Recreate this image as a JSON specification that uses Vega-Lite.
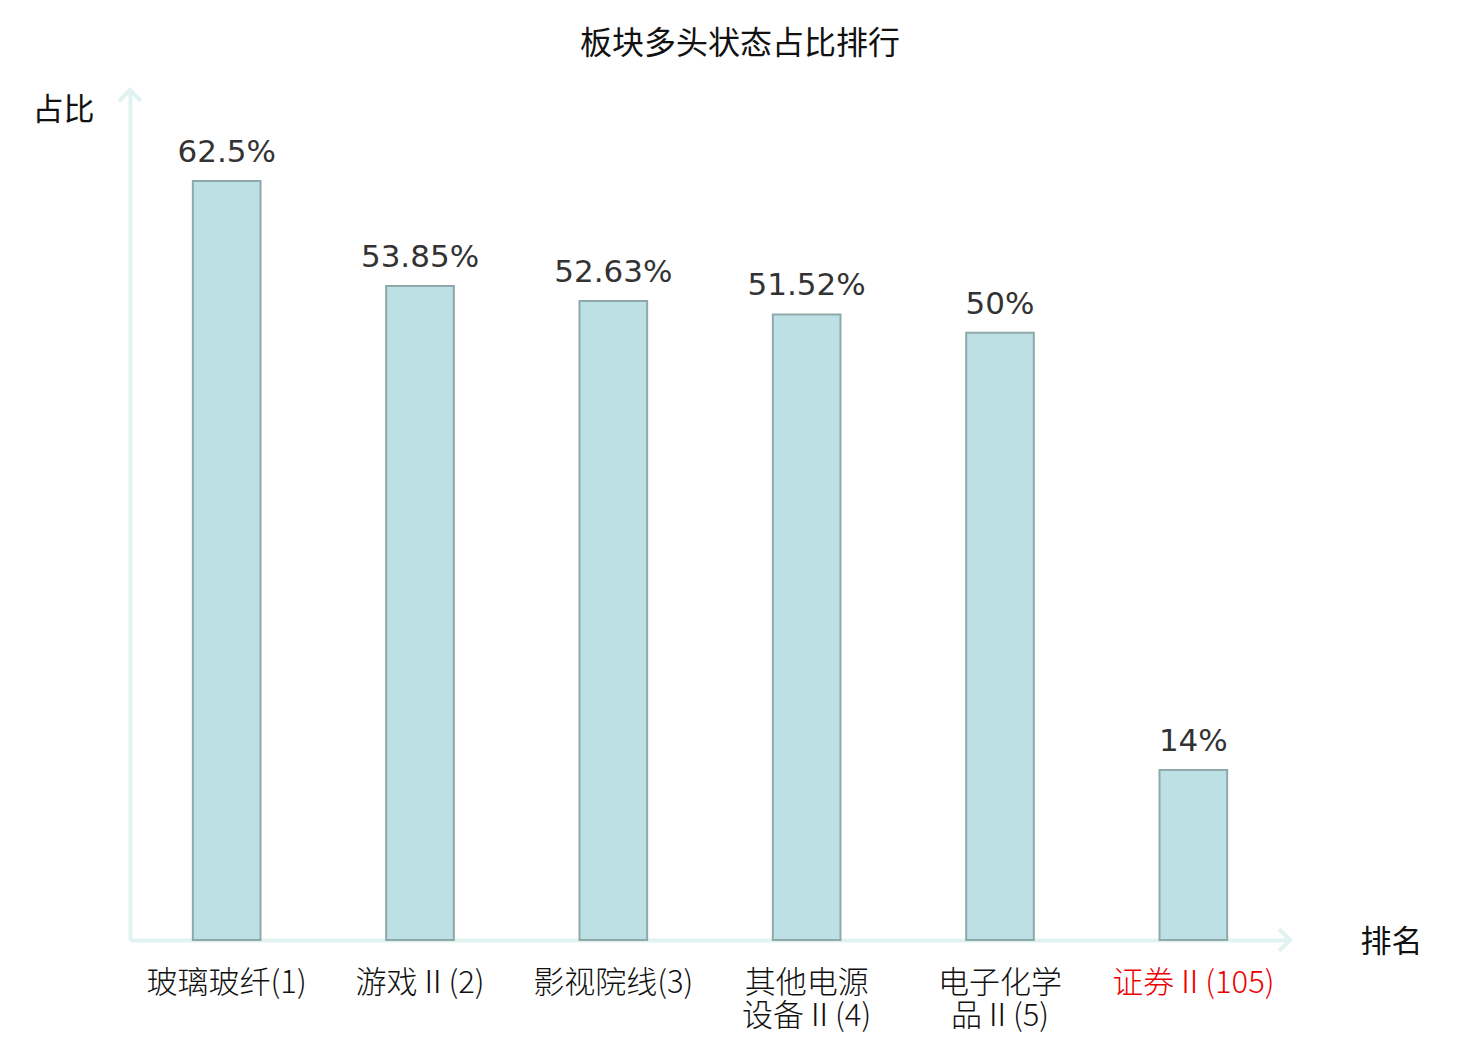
{
  "$schema": "https://vega.github.io/schema/vega-lite/v6.json",
  "width": 1160,
  "height": 850,
  "autosize": {"type": "none"},
  "padding": {"left": 130, "top": 90, "right": 190, "bottom": 100},
  "background": "white",
  "config": {"view": {"stroke": null}},
  "title": {
    "text": "板块多头状态占比排行",
    "font": "Noto Sans CJK SC",
    "fontSize": 32,
    "fontWeight": "normal",
    "color": "#111111",
    "anchor": "middle",
    "dx": 30,
    "offset": 21
  },
  "data": {
    "values": [
      {"sector": "玻璃玻纤(1)", "value": 0.625},
      {"sector": "游戏Ⅱ(2)", "value": 0.5385},
      {"sector": "影视院线(3)", "value": 0.5263},
      {"sector": "其他电源|设备Ⅱ(4)", "value": 0.5152},
      {"sector": "电子化学|品Ⅱ(5)", "value": 0.5},
      {"sector": "证券Ⅱ(105)", "value": 0.14}
    ]
  },
  "layer": [
    {
      "mark": {"type": "bar", "fill": "#bce0e3", "stroke": "#8fa9aa", "strokeWidth": 2},
      "encoding": {
        "x": {
          "field": "sector",
          "type": "nominal",
          "sort": null,
          "scale": {"paddingInner": 0.65, "paddingOuter": 0.325},
          "axis": {
            "title": "排名",
            "titleFont": "Noto Sans CJK SC",
            "titleFontSize": 31,
            "titleFontWeight": "normal",
            "titleColor": "#111111",
            "titleX": 1261,
            "titleY": 2,
            "titleAlign": "center",
            "titleBaseline": "middle",
            "domainColor": "#e0f3f1",
            "domainWidth": 4,
            "ticks": false,
            "labelAngle": 0,
            "labelFont": "Noto Sans CJK SC",
            "labelFontSize": 31,
            "labelFontWeight": 300,
            "labelPadding": 28,
            "labelBaseline": "top",
            "labelLineHeight": 33,
            "labelColor": {"expr": "indexof(datum.value, '证券') >= 0 ? '#ee0000' : '#111111'"},
            "labelExpr": "split(datum.label, '|')"
          }
        },
        "y": {
          "field": "value",
          "type": "quantitative",
          "scale": {"domain": [0, 0.7], "nice": false},
          "axis": {
            "title": "占比",
            "titleFont": "Noto Sans CJK SC",
            "titleFontSize": 31,
            "titleFontWeight": "normal",
            "titleColor": "#111111",
            "titleAngle": 0,
            "titleX": -67,
            "titleY": 20,
            "titleAlign": "center",
            "titleBaseline": "middle",
            "domainColor": "#e0f3f1",
            "domainWidth": 4,
            "ticks": false,
            "labels": false,
            "grid": false
          }
        }
      }
    },
    {
      "mark": {
        "type": "text",
        "font": "DejaVu Sans",
        "fontSize": 31,
        "color": "#333333",
        "baseline": "alphabetic",
        "dy": -19
      },
      "encoding": {
        "x": {"field": "sector", "type": "nominal", "sort": null},
        "y": {"field": "value", "type": "quantitative"},
        "text": {"field": "value", "type": "quantitative", "format": ".2~%"}
      }
    },
    {
      "data": {"values": [{"k": 1}]},
      "mark": {
        "type": "point",
        "shape": "M -1 1 L 0 0 L 1 1",
        "filled": false,
        "stroke": "#e0f3f1",
        "strokeWidth": 4,
        "size": 484,
        "opacity": 1,
        "x": 0,
        "y": 0
      },
      "encoding": {}
    },
    {
      "data": {"values": [{"k": 1}]},
      "mark": {
        "type": "point",
        "shape": "M -1 -1 L 0 0 L -1 1",
        "filled": false,
        "stroke": "#e0f3f1",
        "strokeWidth": 4,
        "size": 484,
        "opacity": 1,
        "x": "width",
        "y": "height"
      },
      "encoding": {}
    }
  ]
}
